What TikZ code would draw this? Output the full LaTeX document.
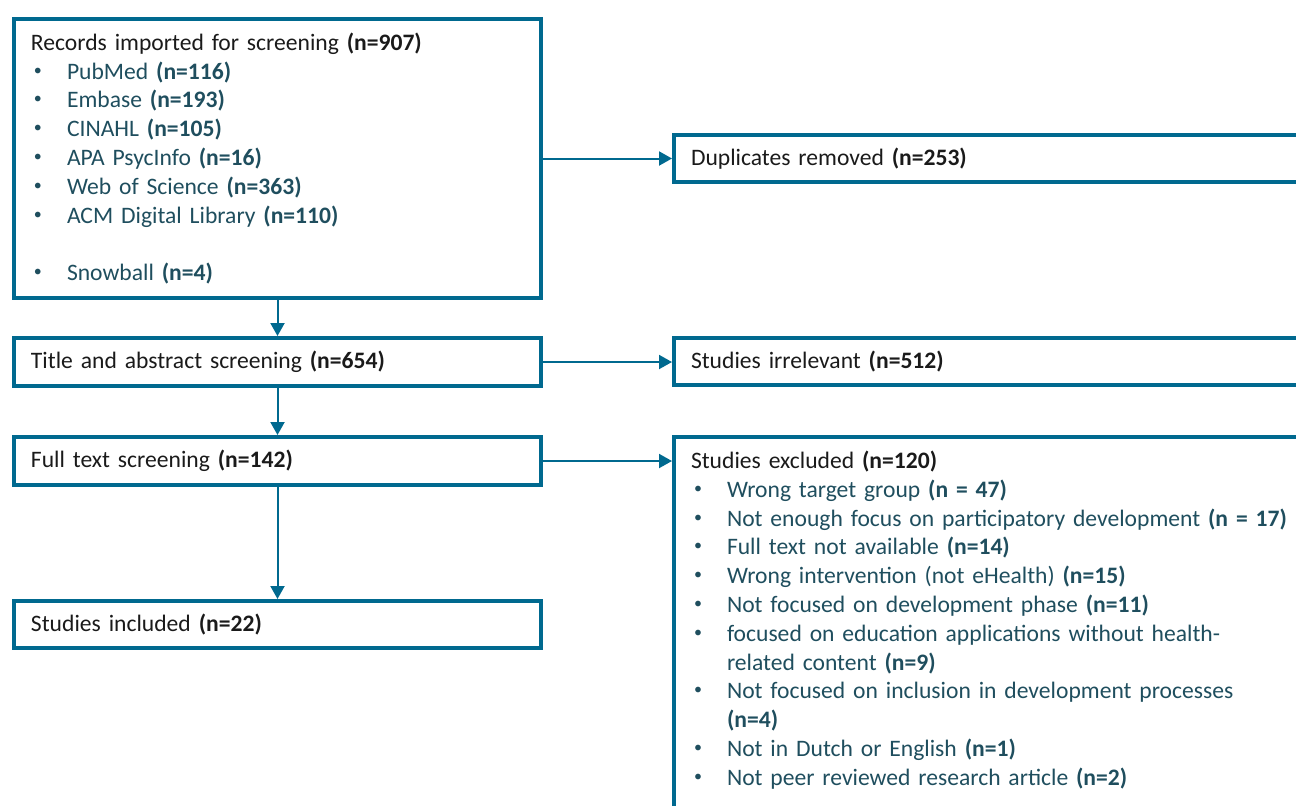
\documentclass[tikz,border=0pt]{standalone}
\usepackage{fontspec}
\setmainfont{Carlito}
\usetikzlibrary{arrows.meta}
\usetikzlibrary{positioning}
\definecolor{prismablue}{HTML}{00698F}
\definecolor{itemtext}{HTML}{1F4E5E}
\definecolor{headtext}{HTML}{1A1A1A}
\newcommand{\headline}[2]% label, count
{{\color{headtext}#1 \textbf{#2}}}
\newcommand{\bulletitem}[2]% label, count
{\hspace*{1.5pt}\makebox[16.5pt][l]{\color{itemtext}\raisebox{0.35ex}{\fontsize{8}{8}\selectfont\textbullet}}{\color{itemtext}#1 \textbf{#2}}}
\newcommand{\contline}[2]% wrapped rest of an item
{\hspace*{18pt}{\color{itemtext}#1 \textbf{#2}}}

\begin{document}
\begin{tikzpicture}[x=0.5pt,y=-0.5pt,
	box/.style={draw=prismablue, line width=2pt, anchor=north west, align=left,
		inner xsep=8.5pt, inner ysep=0pt, text=headtext,
		font=\fontsize{11.8}{14.4}\selectfont},
	leftbox/.style={box, minimum width=263.5pt, text width=246.5pt},
	rightbox/.style={box, minimum width=350pt, text width=333pt},
	flow/.style={draw=prismablue, line width=1pt, -{Triangle[width=7pt,length=6.5pt]}}]
	\useasboundingbox (0,0) rectangle (1296,805);
	\clip (0,0) rectangle (1296,805);
	% left column
	\node[leftbox, minimum height=139.5pt] (records) at (12,17) {%
		\headline{Records imported for screening}{(n=907)}\\
		\bulletitem{PubMed}{(n=116)}\\
		\bulletitem{Embase}{(n=193)}\\
		\bulletitem{CINAHL}{(n=105)}\\
		\bulletitem{APA PsycInfo}{(n=16)}\\
		\bulletitem{Web of Science}{(n=363)}\\
		\bulletitem{ACM Digital Library}{(n=110)}\\
		~\\
		\bulletitem{Snowball}{(n=4)}};
	\node[leftbox, minimum height=24pt] (titleabs) at (12,336)
		{\headline{Title and abstract screening}{(n=654)}};
	\node[leftbox, minimum height=24pt] (fulltext) at (12,435)
		{\headline{Full text screening}{(n=142)}};
	\node[leftbox, minimum height=23.5pt] (included) at (12,599)
		{\headline{Studies included}{(n=22)}};
	% right column
	\node[rightbox, minimum height=23.5pt] (duplicates) at (672,133)
		{\headline{Duplicates removed}{(n=253)}};
	\node[rightbox, minimum height=23.5pt] (irrelevant) at (672,336)
		{\headline{Studies irrelevant}{(n=512)}};
	\node[rightbox, inner ysep=7pt] (excluded) at (672,435) {%
		\headline{Studies excluded}{(n=120)}\\
		\bulletitem{Wrong target group}{(n = 47)}\\
		\bulletitem{Not enough focus on participatory development}{(n = 17)}\\
		\bulletitem{Full text not available}{(n=14)}\\
		\bulletitem{Wrong intervention (not eHealth)}{(n=15)}\\
		\bulletitem{Not focused on development phase}{(n=11)}\\
		\bulletitem{focused on education applications without health-}{}\\
		\contline{related content}{(n=9)}\\
		\bulletitem{Not focused on inclusion in development processes}{}\\
		\contline{}{(n=4)}\\
		\bulletitem{Not in Dutch or English}{(n=1)}\\
		\bulletitem{Not peer reviewed research article}{(n=2)}\\
		~};
	% connectors
	\draw[flow] (records.south) -- (titleabs.north);
	\draw[flow] (titleabs.south) -- (fulltext.north);
	\draw[flow] (fulltext.south) -- (included.north);
	\draw[flow] (records.east) -- (records.east -| duplicates.west);
	\draw[flow] (titleabs.east) -- (titleabs.east -| irrelevant.west);
	\draw[flow] (fulltext.east) -- (fulltext.east -| excluded.west);
\end{tikzpicture}
\end{document}
